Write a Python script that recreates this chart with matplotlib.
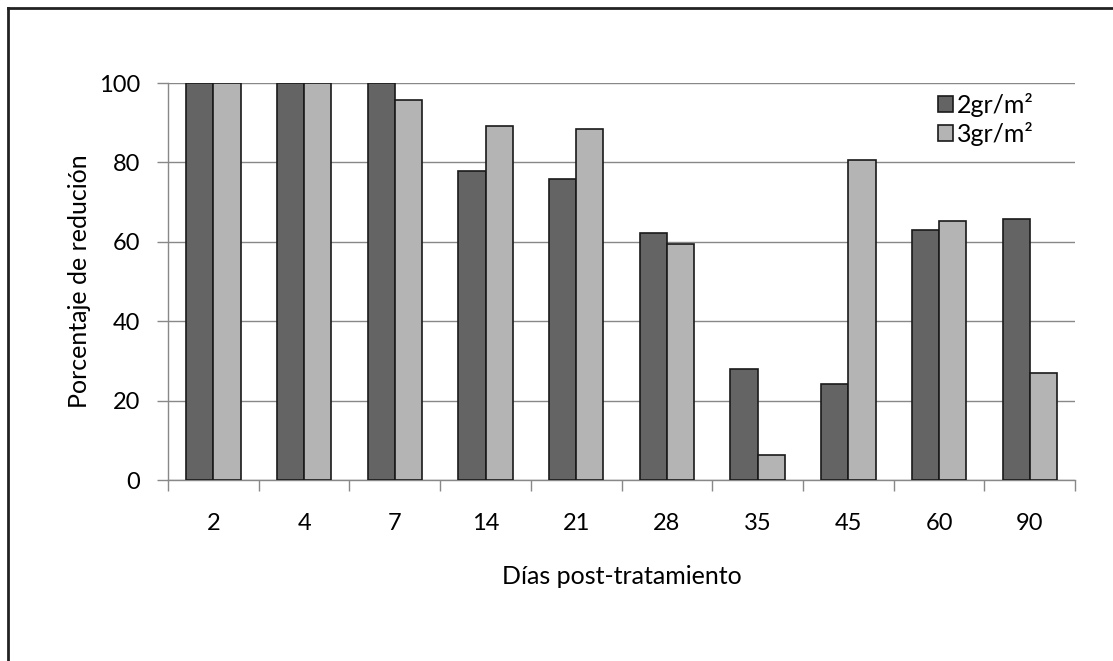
import numpy as np
import matplotlib.pyplot as plt
from matplotlib.lines import Line2D

dias = ['2', '4', '7', '14', '21', '28', '35', '45', '60', '90']
dosis_2gr = [100, 100, 100, 77.8, 75.8, 62.1, 28.0, 24.3, 63.0, 65.8]
dosis_3gr = [100, 100, 95.8, 89.1, 88.3, 59.4, 6.2, 80.6, 65.2, 26.9]
series = ['2gr/m²', '3gr/m²']

plt.rcParams['font.family'] = ['Lato', 'DejaVu Sans']

fig = plt.figure(figsize=(11.13, 6.61), dpi=100)
ax = fig.add_axes([0.151, 0.2738, 0.815, 0.6006])

x = np.arange(len(dias))
w = 0.3
ax.bar(x - w/2, dosis_2gr, w, color='#646464', edgecolor='#1a1a1a', linewidth=1.2,
       label=series[0], zorder=3)
ax.bar(x + w/2, dosis_3gr, w, color='#b4b4b4', edgecolor='#1a1a1a', linewidth=1.2,
       label=series[1], zorder=3)

ax.set_xlim(-0.5, len(dias) - 0.5)
ax.set_ylim(0, 100)
ax.set_yticks(np.arange(0, 101, 20))
ax.set_xticks(x)
ax.set_xticklabels(dias)
ax.set_xticks(np.arange(-0.5, len(dias)), minor=True)
ax.tick_params(axis='x', which='major', length=0, pad=24, labelsize=17)
ax.tick_params(axis='x', which='minor', length=8, color='#888888', width=1)
ax.tick_params(axis='y', length=8, color='#888888', width=1, pad=12, labelsize=17)
ax.yaxis.grid(True, color='#888888', linewidth=1, zorder=0)
for s in ['top', 'right']:
    ax.spines[s].set_visible(False)
for s in ['left', 'bottom']:
    ax.spines[s].set_color('#888888')
    ax.spines[s].set_linewidth(1)

ax.set_xlabel('Días post-tratamiento', fontsize=18, labelpad=22)
ax.set_ylabel('Porcentaje de redución', fontsize=18, labelpad=6)

ax.legend(loc='upper left', bbox_to_anchor=(0.849, 0.975), frameon=False,
          fontsize=18, handlelength=0.6, handleheight=0.6, handletextpad=0.15,
          labelspacing=0.2, borderpad=0.0, borderaxespad=0.0)

# frame lines along the top and left of the figure
fig.add_artist(Line2D([8/1113, 1], [1 - 8/661, 1 - 8/661], color='#222222', linewidth=2))
fig.add_artist(Line2D([8/1113, 8/1113], [0, 1 - 8/661], color='#222222', linewidth=2))

fig.savefig('out.png', dpi=100)
